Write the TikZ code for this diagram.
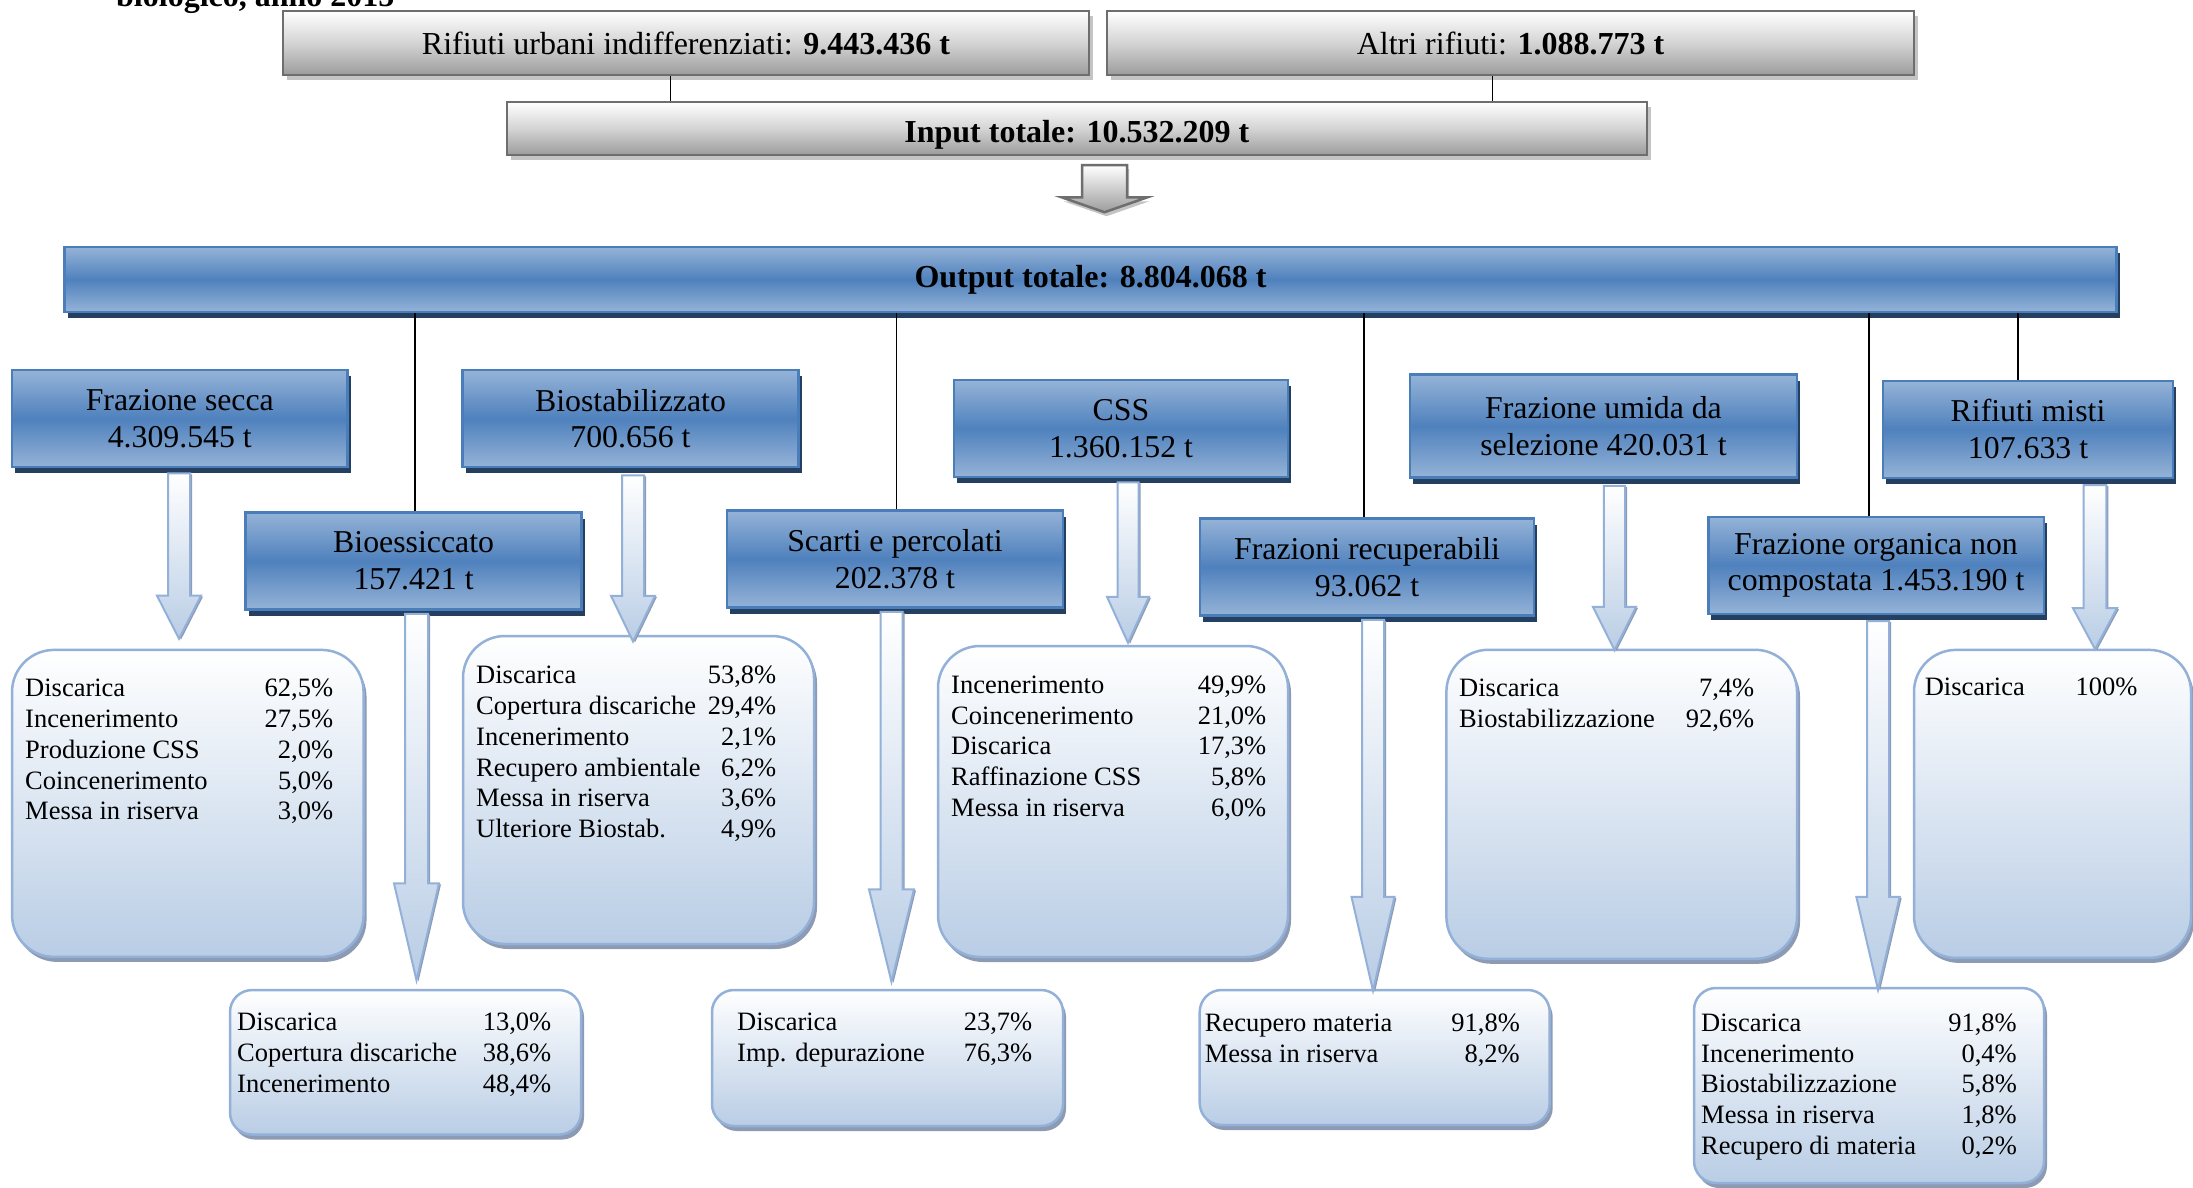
\documentclass[tikz,border=0pt]{standalone}
\usepackage{fontspec}
\setmainfont{Liberation Serif}
\usetikzlibrary{calc,shadows}
\definecolor{bMid}{HTML}{4F81BD}
\definecolor{bLight}{HTML}{95B3D7}
\definecolor{bEdge}{HTML}{4A7EBB}
\definecolor{bShadow}{HTML}{243F60}
\definecolor{rBot}{HTML}{B9CDE5}
\definecolor{rEdge}{HTML}{93B1D8}
\definecolor{rShadow}{HTML}{8C9BB3}
\definecolor{gMid}{HTML}{D4D4D4}
\definecolor{gBot}{HTML}{9C9C9C}
\definecolor{gEdge}{HTML}{6E6E6E}
\definecolor{gShadow}{HTML}{C4C4C4}
\tikzset{
 graybox/.style={rectangle, draw=gEdge, line width=2.5pt, top color=white, bottom color=gBot, middle color=gMid,
   drop shadow={shadow xshift=4pt, shadow yshift=-5pt, fill=gShadow, opacity=1}, inner sep=0pt,
   font=\fontsize{32}{36.8}\selectfont},
 hdr/.style={rectangle, draw=bEdge, line width=2.5pt, top color=bLight, bottom color=bLight, middle color=bMid,
   drop shadow={shadow xshift=3pt, shadow yshift=-6pt, fill=bShadow, opacity=1}, inner sep=0pt, align=center,
   font=\fontsize{31.8}{36.7}\selectfont},
 res/.style={rectangle, draw=rEdge, line width=2.5pt, top color=white, bottom color=rBot,
   drop shadow={shadow xshift=3pt, shadow yshift=-5pt, fill=rShadow, opacity=1}, inner sep=0pt},
 tbl/.style={anchor=north west, inner sep=0pt, font=\fontsize{26.5}{30.8}\selectfont},
 conn/.style={draw=black, line width=1.4pt},
 fatarr/.style={draw=rEdge, line width=2pt, top color=white, bottom color=rBot,
   drop shadow={shadow xshift=2pt, shadow yshift=-1pt, fill=rShadow, opacity=1}},
 grayarr/.style={draw=gEdge, line width=2.5pt, top color=white, bottom color=gBot,
   drop shadow={shadow xshift=2pt, shadow yshift=-4pt, fill=gShadow, opacity=1}},
}
\newcommand\tabl[2]{\begin{tabular*}{#1}{@{}l@{\extracolsep{\fill}}r@{}}#2\end{tabular*}}
% #1 style, #2 start, #3 tip, #4 head length, #5 shaft half width, #6 head half width
\newcommand\fatarrow[6]{%
 \path[#1] let \p1=#2, \p2=#3 in
  (\x1-#5,\y1) -- (\x1+#5,\y1) -- (\x1+#5,\y2+#4) -- (\x1+#6,\y2+#4) -- (\x1,\y2)
  -- (\x1-#6,\y2+#4) -- (\x1-#5,\y2+#4) -- cycle;}
\begin{document}
\begin{tikzpicture}[x=1pt,y=-1pt]
\useasboundingbox (0,0) rectangle (2193,1188);
\fill[white] (0,0) rectangle (2193,1188);
% title (cut at top, as in the reference)
\node[anchor=base west, inner sep=0pt, font=\bfseries\fontsize{32}{36}\selectfont] (title) at (116,7) {biologico, anno 2015};
% input boxes
\node[graybox, minimum width=806pt, minimum height=64pt] (ru) at (686,43)
  {Rifiuti urbani indifferenziati: \textbf{9.443.436 t}};
\node[graybox, minimum width=807pt, minimum height=64pt] (ar) at (1510.5,43)
  {Altri rifiuti: \textbf{1.088.773 t}};
\node[graybox, minimum width=1140pt, minimum height=53pt, font=\bfseries\fontsize{32}{36.8}\selectfont] (inp) at (1076.8,128.5)
  {\raisebox{-14pt}[0pt][0pt]{Input totale: 10.532.209 t}};
\coordinate (ruB) at ($(ru.south)+(-15.4,0)$);
\coordinate (arB) at ($(ar.south)+(-18.1,0)$);
\draw[conn] (ruB) -- (ruB |- inp.north);
\draw[conn] (arB) -- (arB |- inp.north);
% output
\node[hdr, minimum width=2052pt, minimum height=65pt, font=\bfseries\fontsize{32}{36.8}\selectfont] (outp) at (1090.5,279.5)
  {Output totale: 8.804.068 t};
\fatarrow{grayarr}{($(inp.south -| 1104.5,0)+(0,9)$)}{($(outp.north -| 1104.5,0)+(0,-33.5)$)}{15pt}{22.5pt}{43pt}
% level 1 headers
\node[hdr, minimum width=335.5pt, minimum height=97pt] (fs) at (179.8,418.7) {Frazione secca\\4.309.545 t};
\node[hdr, minimum width=336pt, minimum height=97pt] (bs) at (630.5,418.7) {Biostabilizzato\\700.656 t};
\node[hdr, minimum width=334pt, minimum height=97pt] (css) at (1121,428.5) {CSS\\1.360.152 t};
\node[hdr, minimum width=387pt, minimum height=103pt] (fu) at (1603.5,426) {Frazione umida da\\selezione 420.031 t};
\node[hdr, minimum width=290pt, minimum height=97pt] (rm) at (2028,429.3) {Rifiuti misti\\107.633 t};
% level 2 headers
\node[hdr, minimum width=336pt, minimum height=97pt] (be) at (413.6,561) {Bioessiccato\\157.421 t};
\node[hdr, minimum width=336pt, minimum height=97pt] (sp) at (895,559) {Scarti e percolati\\202.378 t};
\node[hdr, minimum width=334pt, minimum height=97pt] (fr) at (1367,567) {Frazioni recuperabili\\93.062 t};
\node[hdr, minimum width=335.5pt, minimum height=97pt] (fo) at (1876,565.3) {Frazione organica non\\compostata 1.453.190 t};
% connectors from output
\coordinate (beT) at ($(be.north)+(1.4,0)$);
\coordinate (spT) at ($(sp.north)+(1.5,0)$);
\coordinate (frT) at ($(fr.north)+(-3,0)$);
\coordinate (foT) at ($(fo.north)+(-7,0)$);
\coordinate (rmT) at ($(rm.north)+(-10,0)$);
\foreach \c in {beT,spT,frT,foT,rmT} \draw[conn] (\c) -- (\c |- outp.south);
% result boxes
\node[res, rounded corners=42pt, minimum width=351.5pt, minimum height=307pt] (fsr) at (187.8,803.4) {};
\node[res, rounded corners=42pt, minimum width=351pt, minimum height=308pt] (bsr) at (638.5,790) {};
\node[res, rounded corners=42pt, minimum width=350pt, minimum height=311pt] (cssr) at (1113,801.5) {};
\node[res, rounded corners=42pt, minimum width=350.6pt, minimum height=309pt] (fur) at (1621.7,804.3) {};
\node[res, rounded corners=42pt, minimum width=277pt, minimum height=308pt] (rmr) at (2052.5,803.9) {};
\node[res, rounded corners=22pt, minimum width=351pt, minimum height=144.5pt] (ber) at (405.5,1062.3) {};
\node[res, rounded corners=22pt, minimum width=351pt, minimum height=136pt] (spr) at (887.5,1058) {};
\node[res, rounded corners=22pt, minimum width=350pt, minimum height=135pt] (frr) at (1374.7,1057.5) {};
\node[res, rounded corners=22pt, minimum width=350pt, minimum height=195pt] (fore) at (1869,1085.5) {};
% result texts
\node[tbl] (fsrt) at (25,675) {\tabl{308pt}{Discarica & 62,5\%\\ Incenerimento & 27,5\%\\ Produzione CSS & 2,0\%\\ Coincenerimento & 5,0\%\\ Messa in riserva & 3,0\%}};
\node[tbl] (bsrt) at (476,662) {\tabl{300pt}{Discarica & 53,8\%\\ Copertura discariche & 29,4\%\\ Incenerimento & 2,1\%\\ Recupero ambientale & 6,2\%\\ Messa in riserva & 3,6\%\\ Ulteriore Biostab. & 4,9\%}};
\node[tbl] (bert) at (237,1009) {\tabl{314pt}{Discarica & 13,0\%\\ Copertura discariche & 38,6\%\\ Incenerimento & 48,4\%}};
\node[tbl] (sprt) at (737,1008.5) {\tabl{295pt}{Discarica & 23,7\%\\ Imp. depurazione & 76,3\%}};
\node[tbl] (cssrt) at (951,671.5) {\tabl{315pt}{Incenerimento & 49,9\%\\ Coincenerimento & 21,0\%\\ Discarica & 17,3\%\\ Raffinazione CSS & 5,8\%\\ Messa in riserva & 6,0\%}};
\node[tbl] (frrt) at (1204.6,1009.5) {\tabl{315pt}{Recupero materia & 91,8\%\\ Messa in riserva & 8,2\%}};
\node[tbl] (furt) at (1459,675) {\tabl{295pt}{Discarica & 7,4\%\\ Biostabilizzazione & 92,6\%}};
\node[tbl] (rmrt) at (1924.6,673.5) {\tabl{212.5pt}{Discarica & 100\%}};
\node[tbl] (foret) at (1701,1009.5) {\tabl{315.6pt}{Discarica & 91,8\%\\ Incenerimento & 0,4\%\\ Biostabilizzazione & 5,8\%\\ Messa in riserva & 1,8\%\\ Recupero di materia & 0,2\%}};
% hollow arrows
\fatarrow{fatarr}{($(fs.south -| 179,0)+(0,5)$)}{($(fsr.north -| 179,0)+(0,-10)$)}{43pt}{11pt}{22pt}
\fatarrow{fatarr}{($(be.south -| 416.5,0)+(0,3)$)}{($(ber.north -| 416.5,0)+(0,-8.5)$)}{97pt}{11.5pt}{22.5pt}
\fatarrow{fatarr}{($(bs.south -| 633,0)+(0,7)$)}{($(bsr.north -| 633,0)+(0,6.7)$)}{45.7pt}{11pt}{22pt}
\fatarrow{fatarr}{($(sp.south -| 891.5,0)+(0,3)$)}{($(spr.north -| 891.5,0)+(0,-7)$)}{92.5pt}{11pt}{22.5pt}
\fatarrow{fatarr}{($(css.south -| 1128,0)+(0,4)$)}{($(cssr.north -| 1128,0)+(0,-2)$)}{46pt}{10.5pt}{21pt}
\fatarrow{fatarr}{($(fr.south -| 1373,0)+(0,3)$)}{($(frr.north -| 1373,0)+(0,2)$)}{94pt}{11pt}{21.5pt}
\fatarrow{fatarr}{($(fu.south -| 1614.5,0)+(0,7)$)}{($(fur.north -| 1614.5,0)+(0,1.5)$)}{43.3pt}{10.6pt}{21.6pt}
\fatarrow{fatarr}{($(fo.south -| 1878,0)+(0,6)$)}{($(fore.north -| 1878,0)+(0,3)$)}{93pt}{11pt}{21.7pt}
\fatarrow{fatarr}{($(rm.south -| 2095,0)+(0,6)$)}{($(rmr.north -| 2095,0)+(0,0.5)$)}{41pt}{11.3pt}{22pt}
\end{tikzpicture}
\end{document}
